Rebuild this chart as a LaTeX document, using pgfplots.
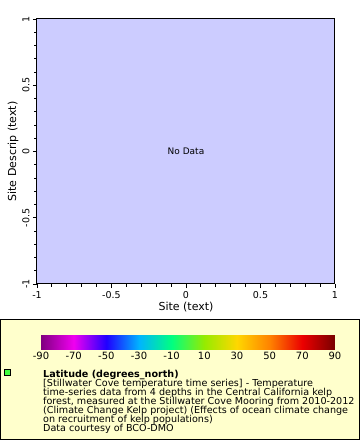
\documentclass[border=0pt]{standalone}
\usepackage{fontspec}
\setmainfont{DejaVu Sans}
\usepackage{pgfplots}
\pgfplotsset{compat=1.18}
\definecolor{plotbg}{RGB}{204,204,255}
\definecolor{legbg}{RGB}{255,255,204}
\definecolor{mkgreen}{RGB}{64,255,64}
\newcommand\legfont{\fontsize{9.6}{9}\selectfont\lineskiplimit=-20pt\relax\lineskip=0pt\relax}
\pgfplotsset{
  colormap={erddap}{
    rgb255(0cm)=(128,0,128)
    rgb255(1cm)=(240,0,240)
    rgb255(2cm)=(32,0,255)
    rgb255(3cm)=(0,180,255)
    rgb255(4cm)=(0,255,128)
    rgb255(5cm)=(150,235,0)
    rgb255(6cm)=(255,215,0)
    rgb255(7cm)=(255,130,0)
    rgb255(8cm)=(235,0,0)
    rgb255(9cm)=(120,0,0)
  }
}
\begin{document}
\begin{tikzpicture}[x=1pt,y=1pt]
\path[use as bounding box] (0,0) rectangle (360,440);
% legend box
\filldraw[fill=legbg,draw=black,line width=1pt] (0.5,0.5) rectangle (359.5,120);
\begin{axis}[
  at={(37pt,156pt)}, anchor=south west,
  width=298pt, height=265pt, scale only axis,
  xmin=-1, xmax=1, ymin=-1, ymax=1,
  axis background/.style={fill=plotbg},
  xtick={-1,-0.5,0,0.5,1}, ytick={-1,-0.5,0,0.5,1},
  xticklabels={-1,-0.5,0,0.5,1}, yticklabels={-1,-0.5,0,0.5,1},
  minor tick num=4,
  tick align=outside, xtick pos=left, ytick pos=left,
  major tick length=4pt, minor tick length=2.5pt,
  tick style={black, line width=0.8pt},
  axis line style={line width=1pt},
  ticklabel style={font=\fontsize{9.5}{11}\selectfont},
  yticklabel style={rotate=90, anchor=south},
  xlabel={Site (text)}, ylabel={Site Descrip (text)},
  label style={font=\fontsize{11}{13}\selectfont},
  xlabel style={yshift=3pt},
  ylabel style={yshift=-3pt},
]
\node[font=\fontsize{9}{11}\selectfont] at (axis cs:0,0) {No Data};
\end{axis}
\begin{axis}[
  at={(41pt,91pt)}, anchor=south west,
  width=294pt, height=14pt, scale only axis,
  xmin=-90, xmax=90, ymin=0, ymax=1,
  colormap name=erddap,
  xtick={-90,-70,-50,-30,-10,10,30,50,70,90},
  xticklabels={-90,-70,-50,-30,-10,10,30,50,70,90},
  ytick=\empty,
  major tick length=0pt,
  axis line style={draw=none},
  xtick pos=left,
  ticklabel style={font=\fontsize{10}{12}\selectfont},
  xticklabel style={yshift=0pt},
  point meta min=-90, point meta max=90,
]
\addplot[surf, shader=interp, mesh/rows=2, mesh/cols=2, point meta=x] coordinates {(-90,0) (90,0) (-90,1) (90,1)};
\end{axis}
\filldraw[fill=mkgreen,draw=black,line width=0.8pt] (4.5,65) rectangle (10.5,71);
\node[anchor=north west,inner sep=0pt,align=left,font=\legfont] at (43,70) {\textbf{Latitude (degrees\_north)}\\{[}Stillwater Cove temperature time series{]} - Temperature\\time-series data from 4 depths in the Central California kelp\\forest, measured at the Stillwater Cove Mooring from 2010-2012\\(Climate Change Kelp project) (Effects of ocean climate change\\on recruitment of kelp populations)\\Data courtesy of BCO-DMO};
\end{tikzpicture}
\end{document}
